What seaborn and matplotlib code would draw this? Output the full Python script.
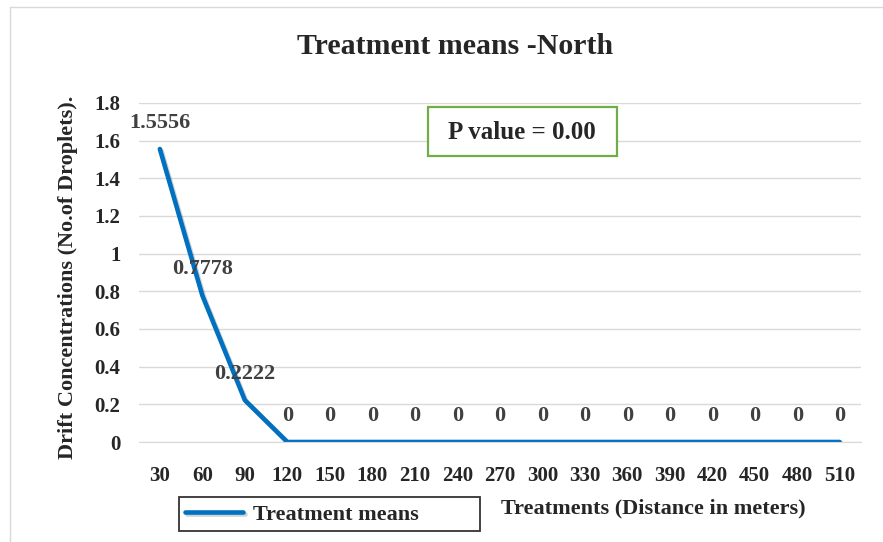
import pandas as pd
import matplotlib.pyplot as plt
import matplotlib.patheffects as pe
import seaborn as sns
from matplotlib.lines import Line2D
from matplotlib.patches import Rectangle

# Chart values
distances = ['30', '60', '90', '120', '150', '180', '210', '240', '270',
             '300', '330', '360', '390', '420', '450', '480', '510']
treatment_means = [1.5556, 0.7778, 0.2222, 0, 0, 0, 0, 0, 0,
                   0, 0, 0, 0, 0, 0, 0, 0]
value_labels = ['1.5556', '0.7778', '0.2222', '0', '0', '0', '0', '0', '0',
                '0', '0', '0', '0', '0', '0', '0', '0']
y_ticks = [0, 0.2, 0.4, 0.6, 0.8, 1, 1.2, 1.4, 1.6, 1.8]
y_tick_labels = ['0', '0.2', '0.4', '0.6', '0.8', '1', '1.2', '1.4', '1.6', '1.8']

data = pd.DataFrame({'Distance': distances, 'Mean': treatment_means})

sns.set_style('white')
plt.rcParams['font.family'] = ['Liberation Serif', 'DejaVu Serif']
plt.rcParams['font.weight'] = 'bold'

fig = plt.figure(figsize=(8.83, 5.42), dpi=100)
ax = fig.add_axes([0.157, 0.1845, 0.818, 0.6255])

sns.lineplot(data=data, x='Distance', y='Mean', color='#0070C0', linewidth=3.3,
             label='Treatment means', ax=ax, sort=False)
ax.lines[0].set_path_effects([pe.SimpleLineShadow(offset=(1.2, -1.2), alpha=0.18),
                              pe.Normal()])

# data labels above each point
for i, (v, lab) in enumerate(zip(treatment_means, value_labels)):
    ax.annotate(lab, (i, v), xytext=(0, 19), textcoords='offset points',
                ha='center', va='center', fontsize=16, fontweight='bold',
                color='#404040')

ax.set_xlim(-0.5, len(distances) - 0.5)
ax.set_ylim(0, 1.8)
ax.set_yticks(y_ticks)
ax.set_yticklabels(y_tick_labels)
ax.yaxis.grid(True, color='#D9D9D9', linewidth=1)
ax.set_axisbelow(True)
for s in ['top', 'right', 'left']:
    ax.spines[s].set_visible(False)
ax.spines['bottom'].set_color('#D9D9D9')
ax.tick_params(axis='both', length=0, labelsize=15)
ax.tick_params(axis='y', pad=13)
ax.tick_params(axis='x', pad=17)
for t in ax.get_xticklabels() + ax.get_yticklabels():
    t.set_fontweight('bold')

fig.suptitle('Treatment means -North', x=455 / 883, y=1 - 46 / 542, va='center',
             fontsize=21.5, fontweight='bold')
ax.set_xlabel('Treatments (Distance in meters)', fontsize=16, fontweight='bold')
ax.xaxis.set_label_coords(0.713, -0.167)
ax.set_ylabel('Drift Concentrations (No.of Droplets).', fontsize=16, fontweight='bold')
ax.yaxis.set_label_coords(-0.0845, 0.487)

# P value box
ax.add_patch(Rectangle((0.400, 0.8437), 0.262, 0.1445, transform=ax.transAxes,
                       facecolor='white', edgecolor='#70AD47', linewidth=1.6,
                       zorder=5))
ax.text(0.5305, 0.914, 'P value = 0.00', transform=ax.transAxes, ha='center',
        va='center', fontsize=18, fontweight='bold', zorder=6)

leg = ax.legend(loc='center left', bbox_to_anchor=(0.0554, -0.268, 0.417, 0.109),
                mode='expand', frameon=True, fancybox=False, handlelength=2.6,
                handletextpad=0.45, borderpad=0.3, borderaxespad=0,
                prop={'size': 16, 'weight': 'bold'})
leg.get_frame().set_edgecolor('black')
leg.get_frame().set_linewidth(1.3)

# thin chart-area border
fig.add_artist(Line2D([10 / 883, 10 / 883], [0, 1 - 7 / 542], color='#D9D9D9', linewidth=1))
fig.add_artist(Line2D([10 / 883, 1], [1 - 7 / 542, 1 - 7 / 542], color='#D9D9D9', linewidth=1))

plt.savefig('out.png', dpi=100)
